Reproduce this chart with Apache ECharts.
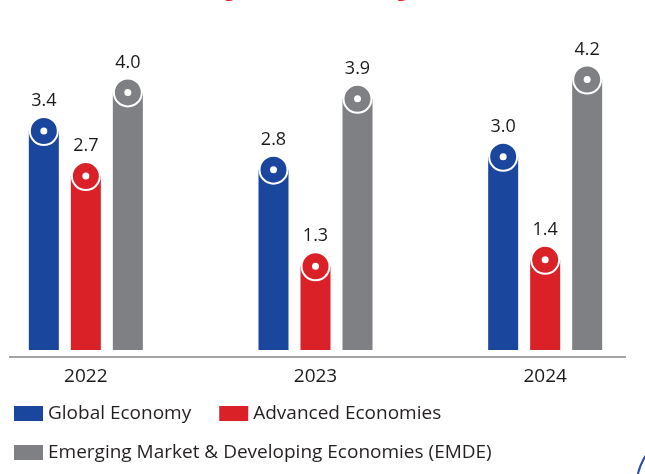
<!DOCTYPE html>
<html>
<head>
<meta charset="utf-8">
<script src="https://cdn.jsdelivr.net/npm/echarts@6/dist/echarts.min.js"></script>
<style>
  html, body { margin: 0; padding: 0; background: #ffffff; }
  #myChart { width: 645px; height: 474px; }
</style>
</head>
<body>
<div id="myChart"></div>
<script>
// 数据
const years = ['2022', '2023', '2024'];
const globalEconomy = [3.4, 2.8, 3.0];
const advancedEconomies = [2.7, 1.3, 1.4];
const emde = [4.0, 3.9, 4.2];
const seriesNames = ['Global Economy', 'Advanced Economies', 'Emerging Market & Developing Economies (EMDE)'];
const seriesColors = ['#1b469d', '#da2128', '#7f8083'];

const font = 'Open Sans';

// 柱顶的圆点
function topDots(values, color) {
  const pts = [];
  values.forEach(function (v, i) {
    pts.push({ coord: [years[i], v], symbol: 'circle', symbolSize: 28,
      itemStyle: { color: color, borderColor: '#ffffff', borderWidth: 2 } });
    pts.push({ coord: [years[i], v], symbol: 'circle', symbolSize: 7,
      itemStyle: { color: '#ffffff', borderWidth: 0 } });
  });
  return pts;
}

function makeSeries(name, values, color) {
  return {
    name: name,
    type: 'bar',
    data: values,
    barWidth: 30,
    barGap: '40%',
    itemStyle: { color: color },
    label: {
      show: true,
      position: 'top',
      distance: 21,
      fontFamily: font,
      fontSize: 18,
      color: '#1a1a1a',
      formatter: function (p) { return p.value.toFixed(1); }
    },
    markPoint: {
      silent: true,
      animation: false,
      label: { show: false },
      data: topDots(values, color)
    }
  };
}

let myChart = echarts.init(document.getElementById('myChart'));
myChart.setOption({
  animation: false,
  title: {
    text: 'Global Growth Slowing Down (Real GDP growth in %)',
    left: 15,
    top: -24,
    textStyle: { color: '#e21f2b', fontFamily: font, fontWeight: 'bold', fontSize: 19 }
  },
  grid: { left: -29, right: -15, top: 28, bottom: 124, outerBoundsMode: 'none', containLabel: false },
  legend: [{
    data: [seriesNames[0], seriesNames[1]],
    left: 9,
    top: 399,
    icon: 'rect',
    itemWidth: 29,
    itemHeight: 15,
    itemGap: 28,
    textStyle: { fontFamily: font, fontSize: 19, color: '#231f20' }
  }, {
    data: [seriesNames[2]],
    left: 9,
    top: 438,
    icon: 'rect',
    itemWidth: 29,
    itemHeight: 15,
    textStyle: { fontFamily: font, fontSize: 19, color: '#231f20' }
  }],
  xAxis: {
    type: 'category',
    data: years,
    axisLine: { show: false },
    axisTick: { show: false },
    axisLabel: { margin: 17, fontFamily: font, fontSize: 19, color: '#1a1a1a' }
  },
  yAxis: {
    type: 'value',
    min: 0,
    max: 5,
    show: false,
    splitLine: { show: false }
  },
  series: [
    makeSeries(seriesNames[0], globalEconomy, seriesColors[0]),
    makeSeries(seriesNames[1], advancedEconomies, seriesColors[1]),
    makeSeries(seriesNames[2], emde, seriesColors[2])
  ],
  graphic: [
    { type: 'line', shape: { x1: 9, y1: 357, x2: 626, y2: 357 },
      style: { stroke: '#a3a3a3', lineWidth: 2 } },
    { type: 'circle', shape: { cx: 701, cy: 490, r: 65 },
      style: { fill: 'none', stroke: '#2a4fa8', lineWidth: 2 } }
  ]
});
</script>
</body>
</html>
